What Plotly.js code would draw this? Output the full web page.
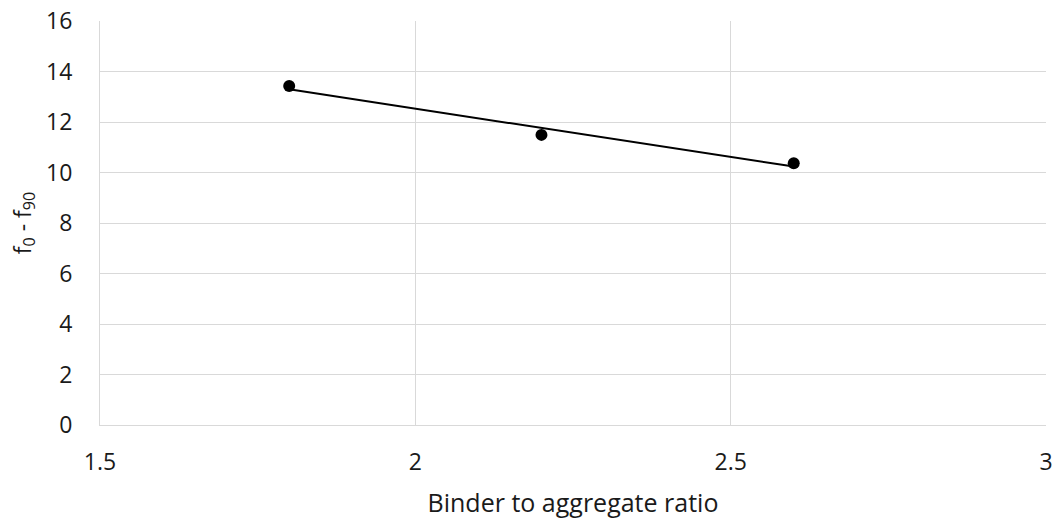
<!DOCTYPE html>
<html>
<head>
<meta charset="utf-8">
<script src="https://cdn.plot.ly/plotly-3.0.1.min.js"></script>
<style>html,body{margin:0;padding:0;background:#fff;}#chart{width:1057px;height:519px;}</style>
</head>
<body>
<div id="chart"></div>
<script>
var ratios = [1.8, 2.2, 2.6];
var diffs = [13.43, 11.49, 10.37];
var xTicks = [1.5, 2, 2.5, 3];
var yTicks = [0, 2, 4, 6, 8, 10, 12, 14, 16];

// linear trendline (least squares) over the data
var n = ratios.length, mx = 0, my = 0;
for (var i = 0; i < n; i++) { mx += ratios[i]; my += diffs[i]; }
mx /= n; my /= n;
var sxy = 0, sxx = 0;
for (var i = 0; i < n; i++) { sxy += (ratios[i]-mx)*(diffs[i]-my); sxx += (ratios[i]-mx)*(ratios[i]-mx); }
var slope = sxy/sxx, icpt = my - slope*mx;
var trendX = [ratios[0], ratios[n-1]];
var trendY = trendX.map(function(x){ return icpt + slope*x; });

var font = "Open Sans, Liberation Sans, sans-serif";
var data = [
  {x: trendX, y: trendY, mode: 'lines', line: {color: '#000', width: 2}, hoverinfo: 'skip'},
  {x: ratios, y: diffs, mode: 'markers', marker: {color: '#000', size: 12}}
];
var layout = {
  width: 1057, height: 519,
  margin: {l: 100, r: 11, t: 21, b: 94},
  showlegend: false,
  paper_bgcolor: '#fff', plot_bgcolor: '#fff',
  font: {family: font, color: '#1a1a1a', size: 23},
  xaxis: {
    range: [1.5, 3], tickvals: xTicks, ticktext: xTicks.map(String),
    showgrid: true, gridcolor: '#d9d9d9', gridwidth: 1,
    zeroline: false, showline: true, linecolor: '#d9d9d9', linewidth: 1,
    ticks: '', ticklabelstandoff: 16,
    tickfont: {size: 23, color: '#1a1a1a'},
    title: {text: 'Binder to aggregate ratio', font: {size: 25, color: '#1a1a1a'}, standoff: 21}
  },
  yaxis: {
    range: [0, 16], tickvals: yTicks, ticktext: yTicks.map(String),
    showgrid: true, gridcolor: '#d9d9d9', gridwidth: 1,
    zeroline: false, showline: true, linecolor: '#d9d9d9', linewidth: 1,
    ticks: '', ticklabelstandoff: 22,
    tickfont: {size: 23, color: '#1a1a1a'},
    title: {text: 'f<sub>0</sub> - f<sub>90</sub>', font: {size: 23, color: '#1a1a1a'}, standoff: 8}
  }
};
Plotly.newPlot('chart', data, layout, {displayModeBar: false, staticPlot: true});
</script>
</body>
</html>
